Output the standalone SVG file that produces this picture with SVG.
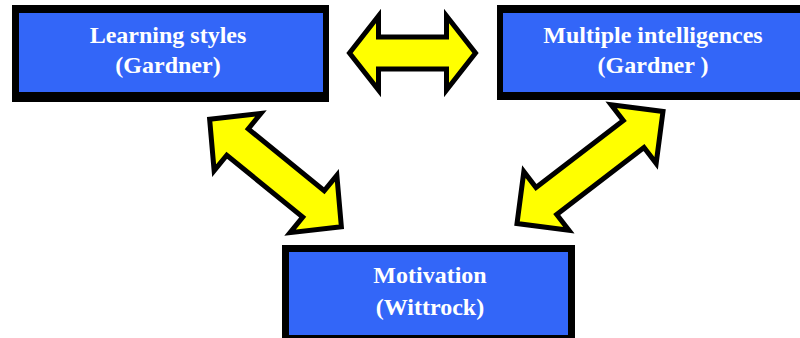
<svg xmlns="http://www.w3.org/2000/svg" width="800" height="338" viewBox="0 0 800 338">
<style>
.frame{fill:#000}
.box{fill:#3366f8}
.lbl{font-family:"Liberation Serif","Times New Roman",serif;font-weight:bold;font-size:24px;fill:#fff;text-anchor:middle}
.arrow{fill:#ffff00;stroke:#000;stroke-width:5;stroke-linejoin:miter;stroke-miterlimit:4}
</style>
<rect width="800" height="338" fill="#fff"/>
<g id="connectors">
  <polygon class="arrow" points="-63,0 -34,-37 -34,-16 34,-16 34,-37 63,0 34,37 34,16 -34,16 -34,37" transform="translate(412.5,53)"/>
  <polygon class="arrow" points="-85,0 -49,-37 -49,-17 49,-17 49,-37 85,0 49,37 49,17 -49,17 -49,37" transform="translate(275.5,173) rotate(39.2)"/>
  <polygon class="arrow" points="-92,0 -55,-37 -55,-17 55,-17 55,-37 92,0 55,37 55,17 -55,17 -55,37" transform="translate(590,167.5) rotate(-37.5)"/>
</g>
<g id="learning-styles">
  <rect class="frame" x="12" y="5" width="317" height="97"/>
  <rect class="box" x="19" y="13" width="304" height="79"/>
  <text class="lbl" x="168" y="43">Learning styles</text>
  <text class="lbl" x="168" y="73">(Gardner)</text>
</g>
<g id="multiple-intelligences">
  <rect class="frame" x="497" y="5" width="310" height="95"/>
  <rect class="box" x="503" y="13" width="300" height="79"/>
  <text class="lbl" x="653" y="43">Multiple intelligences</text>
  <text class="lbl" x="653" y="73">(Gardner )</text>
</g>
<g id="motivation">
  <rect class="frame" x="282" y="245" width="293" height="96"/>
  <rect class="box" x="289" y="252" width="279" height="83"/>
  <text class="lbl" x="430" y="283">Motivation</text>
  <text class="lbl" x="430" y="315">(Wittrock)</text>
</g>
</svg>
